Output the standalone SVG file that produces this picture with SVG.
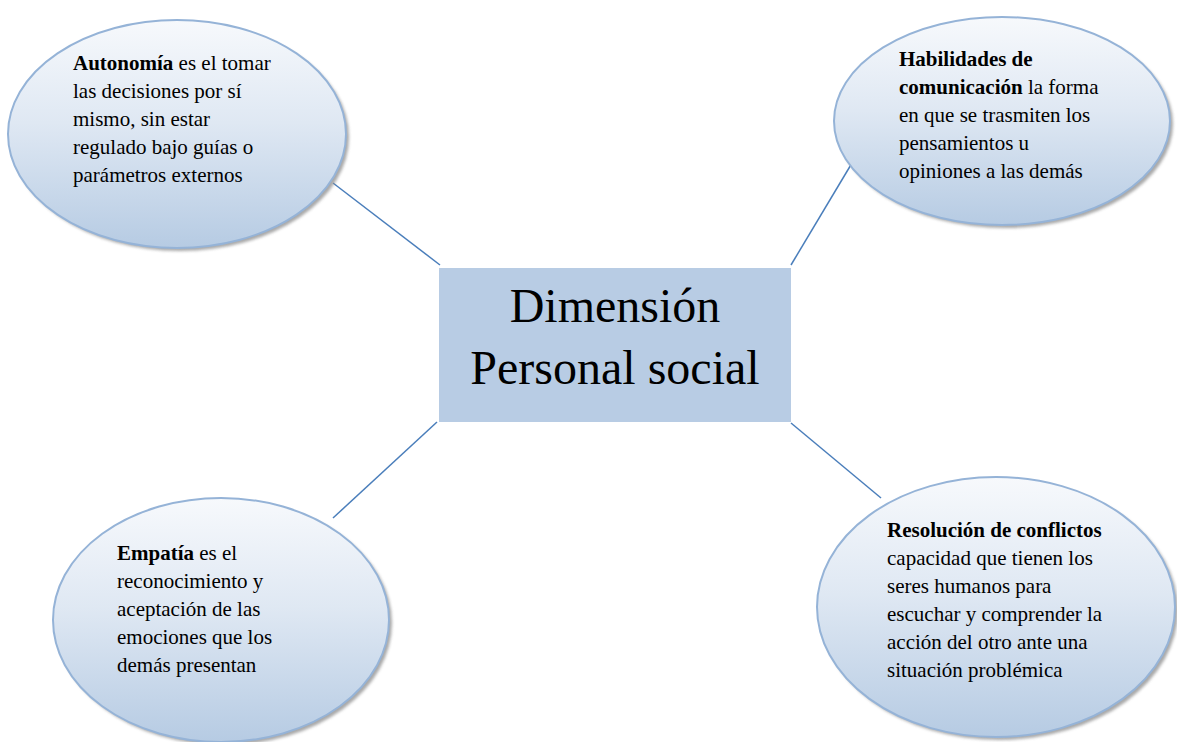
<svg xmlns="http://www.w3.org/2000/svg" width="1177" height="742" viewBox="0 0 1177 742">
<defs>
<linearGradient id="g" x1="0" y1="0" x2="0" y2="1">
<stop offset="0" stop-color="#f7f9fc"/>
<stop offset="0.45" stop-color="#dfe8f3"/>
<stop offset="1" stop-color="#b6cbe3"/>
</linearGradient>
<filter id="sh" x="-10%" y="-10%" width="125%" height="125%">
<feGaussianBlur stdDeviation="1.5"/>
</filter>
</defs>
<style>
.ell{fill:url(#g);stroke:#95b3d7;stroke-width:2}
.shd{fill:#8c8c8c;opacity:0.75;filter:url(#sh)}
.t{font-family:"Liberation Serif","Times New Roman",serif;font-size:21px;fill:#000}
.b{font-weight:bold}
.c{font-family:"Liberation Serif","Times New Roman",serif;font-size:48px;fill:#000;text-anchor:middle}
.con{stroke:#4a7ebb;stroke-width:1.5;fill:none}
</style>
<rect width="1177" height="742" fill="#fff"/>
<g id="connectors">
<line class="con" x1="333" y1="183" x2="440" y2="265"/>
<line class="con" x1="852" y1="163" x2="791" y2="265"/>
<line class="con" x1="437" y1="422" x2="333" y2="518"/>
<line class="con" x1="791" y1="423" x2="881" y2="498"/>
</g>
<g id="center">
<rect x="439" y="268" width="352" height="154" fill="#b8cce4"/>
<text class="c" x="615" y="322">Dimensión</text>
<text class="c" x="615" y="384">Personal social</text>
</g>
<g id="autonomia">
<ellipse class="shd" cx="180" cy="137" rx="169" ry="114"/>
<ellipse class="ell" cx="177" cy="134" rx="169" ry="114"/>
<text class="t" x="73" y="70"><tspan class="b">Autonomía</tspan> es el tomar</text>
<text class="t" x="73" y="98">las decisiones por sí</text>
<text class="t" x="73" y="126">mismo, sin estar</text>
<text class="t" x="73" y="154">regulado bajo guías o</text>
<text class="t" x="73" y="182">parámetros externos</text>
</g>
<g id="habilidades">
<ellipse class="shd" cx="1005" cy="124" rx="168" ry="104"/>
<ellipse class="ell" cx="1002" cy="121" rx="168" ry="104"/>
<text class="t b" x="899" y="66">Habilidades de</text>
<text class="t" x="899" y="94"><tspan class="b">comunicación</tspan> la forma</text>
<text class="t" x="899" y="122">en que se trasmiten los</text>
<text class="t" x="899" y="150">pensamientos u</text>
<text class="t" x="899" y="178">opiniones a las demás</text>
</g>
<g id="empatia">
<ellipse class="shd" cx="224" cy="623" rx="168" ry="122"/>
<ellipse class="ell" cx="221" cy="620" rx="168" ry="122"/>
<text class="t" x="117" y="560"><tspan class="b">Empatía</tspan> es el</text>
<text class="t" x="117" y="588">reconocimiento y</text>
<text class="t" x="117" y="616">aceptación de las</text>
<text class="t" x="117" y="644">emociones que los</text>
<text class="t" x="117" y="672">demás presentan</text>
</g>
<g id="resolucion">
<ellipse class="shd" cx="999" cy="610" rx="179" ry="130"/>
<ellipse class="ell" cx="996" cy="607" rx="179" ry="130"/>
<text class="t b" x="887" y="537">Resolución de conflictos</text>
<text class="t" x="887" y="565">capacidad que tienen los</text>
<text class="t" x="887" y="593">seres humanos para</text>
<text class="t" x="887" y="621">escuchar y comprender la</text>
<text class="t" x="887" y="649">acción del otro ante una</text>
<text class="t" x="887" y="677">situación problémica</text>
</g>
</svg>
